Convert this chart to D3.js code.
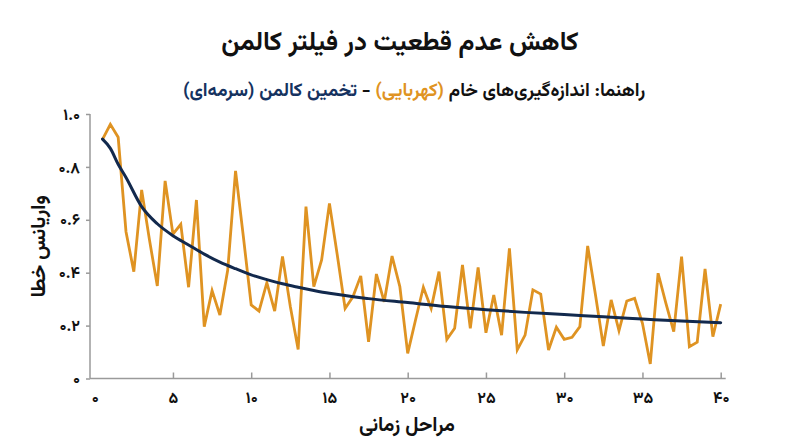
<!DOCTYPE html>
<html lang="fa">
<head>
<meta charset="utf-8">
<script src="https://cdn.jsdelivr.net/npm/d3@7/dist/d3.min.js"></script>
<style>
  html, body { margin: 0; padding: 0; background: #ffffff; }
  svg { display: block; }
  text { font-family: Vazirmatn, "Noto Sans Arabic", "DejaVu Sans", sans-serif; }
</style>
</head>
<body>
<svg id="chart" width="800" height="447"></svg>
<script>
// ---- data ----
const timeSteps = [0.5,1,1.5,2,2.5,3,3.5,4,4.5,5,5.5,6,6.5,7,7.5,8,8.5,9,9.5,10,
  10.5,11,11.5,12,12.5,13,13.5,14,14.5,15,15.5,16,16.5,17,17.5,18,18.5,19,19.5,20,
  20.5,21,21.5,22,22.5,23,23.5,24,24.5,25,25.5,26,26.5,27,27.5,28,28.5,29,29.5,30,
  30.5,31,31.5,32,32.5,33,33.5,34,34.5,35,35.5,36,36.5,37,37.5,38,38.5,39,39.5,40];
const rawMeasurements = [0.904,0.961,0.912,0.555,0.404,0.713,0.524,0.350,0.747,0.546,
  0.583,0.345,0.675,0.196,0.332,0.240,0.410,0.785,0.536,0.278,
  0.255,0.362,0.255,0.461,0.272,0.110,0.650,0.347,0.448,0.662,
  0.467,0.265,0.309,0.388,0.139,0.395,0.290,0.463,0.347,0.095,
  0.221,0.345,0.265,0.404,0.148,0.190,0.429,0.190,0.420,0.173,
  0.316,0.164,0.492,0.108,0.164,0.335,0.319,0.108,0.194,0.148,
  0.156,0.196,0.501,0.316,0.123,0.297,0.181,0.293,0.303,0.209,
  0.055,0.398,0.284,0.177,0.461,0.120,0.137,0.414,0.158,0.281];
const kalmanSteps = [0.5,1,1.5,2,3,4,5,6,7,8,9,10,11,12,13,14,15,17.5,20,22.5,25,27.5,30,32.5,35,37.5,40];
const kalmanEstimate = [0.905,0.87,0.81,0.76,0.65,0.585,0.54,0.505,0.47,0.44,0.415,0.392,0.374,0.358,0.345,0.333,0.322,0.302,0.287,0.272,0.260,0.250,0.242,0.233,0.225,0.217,0.211];
const xTicks = [0,5,10,15,20,25,30,35,40];
const xTickLabels = ["۰","۵","۱۰","۱۵","۲۰","۲۵","۳۰","۳۵","۴۰"];
const yTicks = [0,0.2,0.4,0.6,0.8,1.0];
const yTickLabels = ["۰","۰.۲","۰.۴","۰.۶","۰.۸","۱.۰"];

const titleText = "کاهش عدم قطعیت در فیلتر کالمن";
const subtitleParts = [
  {t: "راهنما: اندازه\u200cگیری\u200cهای خام ", c: "#111111"},
  {t: "(کهربایی)", c: "#DF9322"},
  {t: " - ", c: "#111111"},
  {t: "تخمین کالمن (سرمه\u200cای)", c: "#15325f"}
];
const xTitle = "مراحل زمانی";
const yTitle = "واریانس خطا";

// ---- layout ----
const FONT = 'Vazirmatn, "Noto Sans Arabic", "DejaVu Sans", sans-serif';
const AMBER = "#DF9322", NAVY = "#12294d", AXIS = "#9a9a9a";
const svg = d3.select("#chart");
const x = d3.scaleLinear().domain([0, 40]).range([94.7, 720.7]);
const y = d3.scaleLinear().domain([0, 1]).range([378.5, 114]);
const axisX0 = 90;

// title
svg.append("text").attr("x", 400).attr("y", 50)
  .attr("text-anchor", "middle").attr("direction", "rtl")
  .attr("font-size", 26).attr("font-weight", "bold").attr("fill", "#111")
  .text(titleText);

// subtitle
const sub = svg.append("text").attr("x", 414).attr("y", 96)
  .attr("text-anchor", "middle").attr("direction", "rtl")
  .attr("font-size", 18.5).attr("font-weight", "bold");
subtitleParts.forEach(p => sub.append("tspan").attr("fill", p.c).text(p.t));

// y axis
const yAxis = d3.axisLeft(y).tickValues(yTicks)
  .tickFormat((d, i) => yTickLabels[i]).tickSizeInner(4).tickSizeOuter(0).tickPadding(6);
const gy = svg.append("g").attr("transform", `translate(${axisX0},0)`).call(yAxis);
gy.select(".domain").remove();
gy.selectAll(".tick line").attr("stroke", AXIS).attr("stroke-width", 1.5);
gy.selectAll(".tick text")
  .attr("x", -10).attr("text-anchor", "end").attr("direction", "ltr")
  .attr("font-size", 16).attr("font-weight", "bold").attr("fill", "#111")
  .attr("font-family", FONT);
svg.append("line").attr("x1", axisX0).attr("x2", axisX0).attr("y1", y(1)).attr("y2", y(0))
  .attr("stroke", AXIS).attr("stroke-width", 1.5);

// x axis
const xAxis = d3.axisBottom(x).tickValues(xTicks)
  .tickFormat((d, i) => xTickLabels[i]).tickSizeInner(-6).tickSizeOuter(0);
const gx = svg.append("g").attr("transform", `translate(0,${y(0)})`).call(xAxis);
gx.select(".domain").remove();
gx.selectAll(".tick line").attr("stroke", AXIS).attr("stroke-width", 1.5)
  .attr("opacity", d => d === 0 ? 0 : 1);
gx.selectAll(".tick text").attr("y", 24).attr("dy", 0)
  .attr("font-size", 16).attr("font-weight", "bold").attr("fill", "#111")
  .attr("font-family", FONT);
svg.append("line").attr("x1", axisX0).attr("x2", x(40) + 5).attr("y1", y(0)).attr("y2", y(0))
  .attr("stroke", AXIS).attr("stroke-width", 1.5);

// axis titles
svg.append("text").attr("x", 407).attr("y", 431)
  .attr("text-anchor", "middle").attr("direction", "rtl")
  .attr("font-size", 20).attr("font-weight", "bold").attr("fill", "#111").text(xTitle);
svg.append("text").attr("transform", `translate(45,${(y(0)+y(1))/2}) rotate(-90)`)
  .attr("text-anchor", "middle").attr("direction", "rtl")
  .attr("font-size", 20).attr("font-weight", "bold").attr("fill", "#111").text(yTitle);

// raw measurements
const rawData = timeSteps.map((t, i) => ({t, v: rawMeasurements[i]}));
svg.append("path").datum(rawData)
  .attr("fill", "none").attr("stroke", AMBER).attr("stroke-width", 2.8)
  .attr("stroke-linejoin", "miter")
  .attr("d", d3.line().x(d => x(d.t)).y(d => y(d.v)));

// kalman estimate
const kalData = kalmanSteps.map((t, i) => ({t, v: kalmanEstimate[i]}));
svg.append("path").datum(kalData)
  .attr("fill", "none").attr("stroke", NAVY).attr("stroke-width", 3)
  .attr("stroke-linecap", "round")
  .attr("d", d3.line().curve(d3.curveMonotoneX).x(d => x(d.t)).y(d => y(d.v)));
</script>
</body>
</html>
